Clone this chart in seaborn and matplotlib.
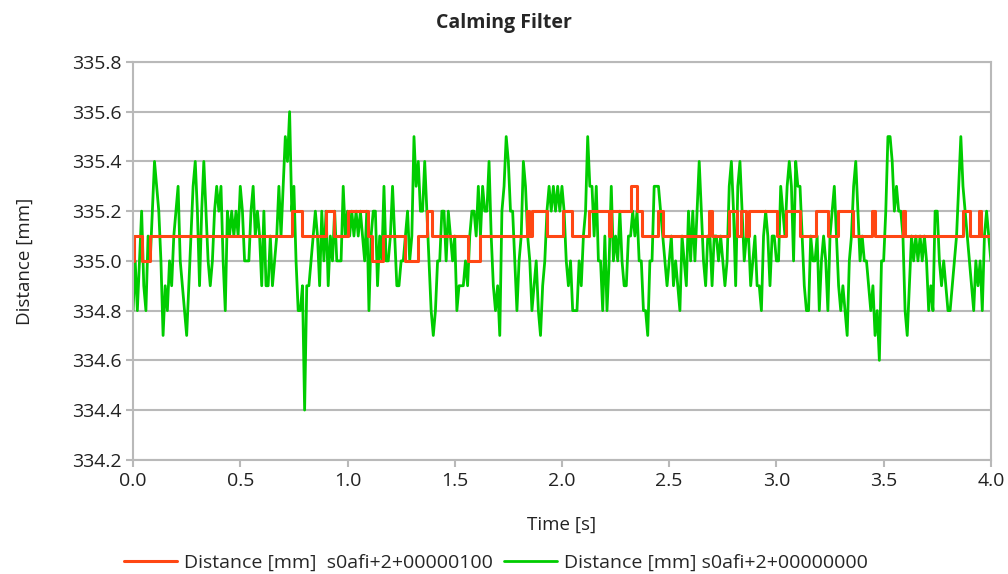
import numpy as np
import pandas as pd
import matplotlib
matplotlib.use("Agg")
import matplotlib.pyplot as plt
import seaborn as sns

raw_mm = [
    334.8, 335.0, 334.8, 335.0, 335.2, 334.9, 334.8, 335.1, 335.0, 335.2,
    335.4, 335.3, 335.2, 335.0, 334.7, 334.9, 334.8, 335.0, 334.9, 335.1,
    335.2, 335.3, 335.0, 334.9, 334.8, 334.7, 334.9, 335.1, 335.3, 335.4,
    335.2, 334.9, 335.2, 335.4, 335.2, 335.0, 334.9, 335.0, 335.2, 335.3,
    335.2, 335.3, 335.0, 334.8, 335.2, 335.1, 335.2, 335.1, 335.2, 335.1,
    # 0.50 s
    335.3, 335.2, 335.0, 335.0, 335.0, 335.2, 335.3, 335.1, 335.2, 335.1,
    334.9, 335.2, 334.9, 334.9, 335.1, 334.9, 335.0, 335.1, 335.3, 335.1,
    335.3, 335.5, 335.4, 335.6, 335.2, 335.3, 335.0, 334.8, 334.8, 334.9,
    334.4, 334.9, 334.9, 335.0, 335.1, 335.2, 335.1, 334.9, 335.2, 335.0,
    335.2, 334.9, 335.1, 335.0, 335.2, 335.0, 335.0, 335.0, 335.3, 335.1,
    335.2, 335.1,
    # 1.02 s
    335.2, 335.1, 335.2, 335.1, 335.2, 335.1, 335.0, 335.2, 334.8, 335.1,
    335.2, 335.2, 334.9, 335.1, 335.0, 335.3, 335.0, 335.0, 335.1, 335.3,
    335.1, 334.9, 334.9, 335.0, 335.0, 335.1, 335.2, 335.0, 335.1, 335.5,
    335.3, 335.4, 335.2, 335.2, 335.4, 335.2, 335.0, 334.8, 334.7, 334.8,
    335.0, 335.0, 335.2, 335.2, 335.0, 335.2, 335.1, 335.0, 335.1, 334.8,
    334.9,
    # 1.53 s
    334.9, 334.9, 335.0, 334.9, 335.1, 335.2, 335.2, 335.1, 335.3, 335.1,
    335.3, 335.2, 335.2, 335.4, 335.1, 334.9, 334.8, 334.9, 334.7, 335.2,
    335.3, 335.5, 335.4, 335.2, 335.2, 335.0, 334.8, 335.0, 335.1, 335.4,
    335.3, 335.1, 335.0, 334.8, 334.9, 335.0, 334.8, 334.7, 334.9, 335.0,
    335.2, 335.3, 335.2, 335.3, 335.2, 335.3, 335.2, 335.3, 335.2, 335.0,
    334.9,
    # 2.04 s
    335.0, 334.8, 334.8, 334.8, 335.0, 334.9, 335.1, 335.2, 335.5, 335.3,
    335.3, 335.1, 335.3, 335.0, 335.0, 334.8, 335.1, 334.8, 335.0, 335.3,
    335.0, 335.1, 335.0, 335.2, 335.0, 334.9, 334.9, 335.1, 335.1, 335.2,
    335.1, 335.2, 335.0, 335.0, 334.8, 334.8, 334.7, 335.0, 335.0, 335.3,
    335.3, 335.3, 335.2, 335.1, 335.0, 334.9, 335.0, 335.1, 334.9, 335.0,
    334.9,
    # 2.55 s
    334.8, 335.1, 335.0, 334.9, 335.2, 335.0, 335.2, 335.0, 335.2, 335.4,
    335.2, 335.0, 334.9, 335.1, 335.1, 334.9, 335.1, 335.1, 335.0, 335.1,
    335.0, 334.9, 335.0, 335.3, 335.4, 335.2, 334.9, 335.3, 335.4, 335.2,
    335.0, 335.1, 335.1, 334.9, 335.0, 335.1, 334.9, 334.9, 334.8, 335.1,
    335.2, 335.1, 334.9, 335.1, 335.1, 335.0, 335.0, 335.3, 335.2, 335.1,
    335.3, 335.4,
    # 3.07 s
    335.3, 335.0, 335.4, 335.3, 335.3, 335.1, 334.9, 334.8, 334.8, 335.1,
    335.0, 335.0, 335.1, 334.8, 335.0, 335.1, 335.0, 334.8, 335.1, 335.2,
    335.3, 335.1, 334.9, 334.8, 334.9, 334.8, 334.7, 335.0, 335.1, 335.3,
    335.4, 335.2, 335.0, 335.1, 335.0, 335.0, 334.9, 334.8, 334.9, 334.7,
    334.8, 334.6, 335.0, 335.0, 335.2, 335.5, 335.5, 335.4, 335.2, 335.3,
    335.2,
    # 3.58 s
    335.2, 335.1, 334.8, 334.7, 334.9, 335.1, 335.0, 335.1, 335.0, 335.1,
    335.0, 335.1, 335.0, 334.8, 334.9, 334.8, 335.2, 335.2, 335.0, 334.9,
    335.0, 334.9, 334.8, 334.8, 334.9, 335.0, 335.1, 335.3, 335.5, 335.3,
    335.2, 335.1, 335.0, 334.9, 334.8, 335.0, 334.9, 335.0, 334.8, 335.1,
    335.2, 335.1, 335.0,
]
raw_time = np.arange(len(raw_mm)) * 0.01

# calmed distance: step changes (time, new value)
calm_time = [0.0, 0.005, 0.04, 0.08, 0.743, 0.786, 0.898, 0.938, 1.004, 1.094,
             1.113, 1.164, 1.268, 1.327, 1.369, 1.395, 1.560, 1.619, 1.835, 1.845,
             1.858, 1.928, 2.006, 2.048, 2.126, 2.219, 2.23, 2.32, 2.348, 2.371,
             2.446, 2.472, 2.685, 2.70, 2.779, 2.814, 2.837, 2.856, 2.872, 3.001,
             3.047, 3.11, 3.184, 3.242, 3.288, 3.358, 3.444, 3.46, 3.588, 3.598,
             3.868, 3.902, 3.945, 3.955, 4.0]
calm_mm = [335.0, 335.1, 335.0, 335.1, 335.2, 335.1, 335.2, 335.1, 335.2, 335.1,
           335.0, 335.1, 335.0, 335.1, 335.2, 335.1, 335.0, 335.1, 335.2, 335.1,
           335.2, 335.1, 335.2, 335.1, 335.2, 335.1, 335.2, 335.3, 335.2, 335.1,
           335.2, 335.1, 335.2, 335.1, 335.2, 335.1, 335.2, 335.1, 335.2, 335.1,
           335.2, 335.1, 335.2, 335.1, 335.2, 335.1, 335.2, 335.1, 335.2, 335.1,
           335.2, 335.1, 335.2, 335.1, 335.1]

label_calm = "Distance [mm]  s0afi+2+00000100"
label_raw = "Distance [mm] s0afi+2+00000000"

df_raw = pd.DataFrame({"t": raw_time, "d": raw_mm})
df_calm = pd.DataFrame({"t": calm_time, "d": calm_mm})

sns.set_style("white")
plt.rcParams["font.family"] = ["Open Sans", "DejaVu Sans"]

grid_col = "#b9b9b9"
txt_col = "#222222"
fig = plt.figure(figsize=(10.08, 5.74), dpi=100)
ax = fig.add_axes([0.132, 0.199, 0.851, 0.693])

sns.lineplot(data=df_raw, x="t", y="d", ax=ax, color="#00cc00", lw=2.0,
             estimator=None, sort=False, label=label_raw)
sns.lineplot(data=df_calm, x="t", y="d", ax=ax, color="#ff4713", lw=2.2,
             estimator=None, sort=False, drawstyle="steps-post", label=label_calm)

ax.set_xlim(0, 4)
ax.set_ylim(334.2, 335.8)
ax.set_xticks(np.arange(0, 4.01, 0.5))
ax.set_yticks(np.arange(334.2, 335.81, 0.2))
ax.xaxis.set_major_formatter(matplotlib.ticker.FormatStrFormatter("%.1f"))
ax.yaxis.set_major_formatter(matplotlib.ticker.FormatStrFormatter("%.1f"))
ax.grid(axis="y", color=grid_col, lw=1.5)
ax.set_axisbelow(True)
for s in ax.spines.values():
    s.set_color(grid_col)
    s.set_linewidth(1.5)
ax.tick_params(axis="both", colors=grid_col, labelcolor=txt_col,
               labelsize=14, length=5, width=1.5, direction="out")
ax.tick_params(left=True, bottom=True)

ax.set_xlabel("Time [s]", fontsize=13.5, color=txt_col, labelpad=19)
ax.set_ylabel("Distance [mm]", fontsize=13.5, color=txt_col, labelpad=27)
fig.suptitle("Calming Filter", fontsize=14, fontweight="bold", y=0.978)

h, l = ax.get_legend_handles_labels()
ax.legend(h[::-1], l[::-1], loc="center", bbox_to_anchor=(0.423, -0.258),
          ncol=2, frameon=False, fontsize=14, handlelength=2.7,
          columnspacing=0.6, handletextpad=0.35)

fig.savefig("out.png", dpi=100)
